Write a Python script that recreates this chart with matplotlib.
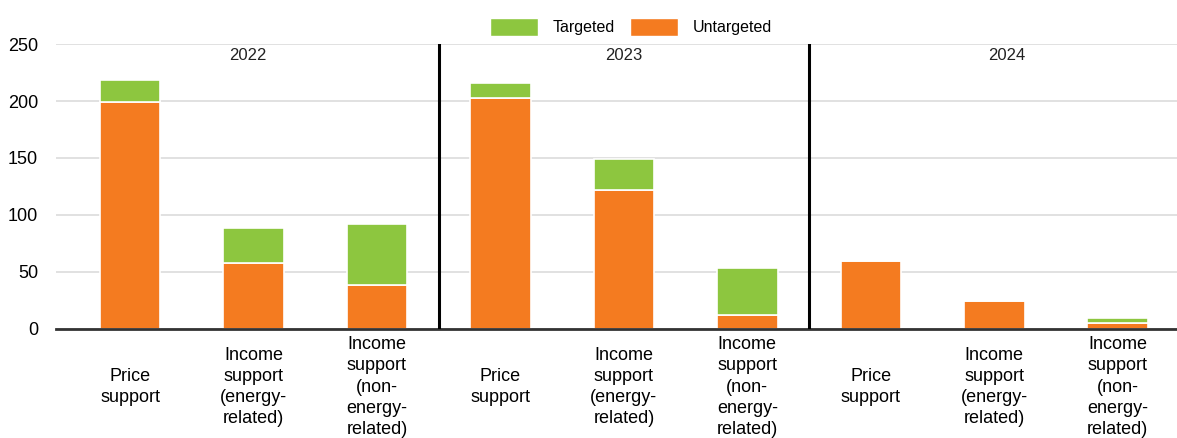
import matplotlib
matplotlib.use("Agg")
import matplotlib.pyplot as plt
from matplotlib.patches import Patch

plt.rcParams['font.family'] = ['Liberation Sans', 'DejaVu Sans']

years = ["2022", "2023", "2024"]
categories = [
    "Price\nsupport",
    "Income\nsupport\n(energy-\nrelated)",
    "Income\nsupport\n(non-\nenergy-\nrelated)",
]
untargeted = [199, 58, 38, 203, 122, 12, 59, 24, 5]
targeted = [20, 30, 54, 13, 27, 41, 0, 0, 4]
yticks = [0, 50, 100, 150, 200, 250]

GREEN = "#8DC63F"
ORANGE = "#F47B20"

fig = plt.figure(figsize=(11.77, 4.38), dpi=100)
ax = fig.add_axes([56 / 1177, 1 - 328.5 / 438, 1 - 56 / 1177, (328.5 - 44.3) / 438])

n = len(untargeted)
xs = list(range(n))
ax.bar(xs, untargeted, width=0.49, color=ORANGE, edgecolor="white", linewidth=1.2, zorder=3)
ax.bar(xs, targeted, width=0.49, bottom=untargeted, color=GREEN, edgecolor="white",
       linewidth=1.2, zorder=3)

ax.set_ylim(0, 250)
ax.set_xlim(-0.6, 8.48)
ax.set_yticks(yticks)
ax.set_yticklabels([str(v) for v in yticks], fontsize=13)
ax.tick_params(axis="y", length=0, pad=13)
ax.set_xticks([])
ax.grid(axis="y", color="#dcdcdc", linewidth=1.2, zorder=0)
for s in ["top", "right", "left"]:
    ax.spines[s].set_visible(False)
ax.spines["bottom"].set_color("#333333")
ax.spines["bottom"].set_linewidth(2)
ax.spines["bottom"].set_zorder(4)

ncat = len(categories)
bounds = [-0.6, 2.5, 5.5, 8.7]
for g, yr in enumerate(years):
    ax.text((bounds[g] + bounds[g + 1]) / 2, 240, yr, ha="center", va="center",
            fontsize=12, color="#222222")
    if g > 0:
        ax.axvline(g * ncat - 0.5, color="black", linewidth=2.2, zorder=5)
    for c, lab in enumerate(categories):
        ax.text(g * ncat + c, -51.5, lab, ha="center", va="center", fontsize=13,
                linespacing=1.32, color="black", clip_on=False)

handles = [Patch(facecolor=GREEN, edgecolor="white", label="Targeted"),
           Patch(facecolor=ORANGE, edgecolor="white", label="Untargeted")]
fig.legend(handles=handles, loc="center", bbox_to_anchor=(0.536, 0.938), ncol=2,
           frameon=False, fontsize=11.5, handlelength=3.0, handleheight=1.4,
           handletextpad=0.9, columnspacing=1.0)

fig.savefig("out.png", dpi=100)
